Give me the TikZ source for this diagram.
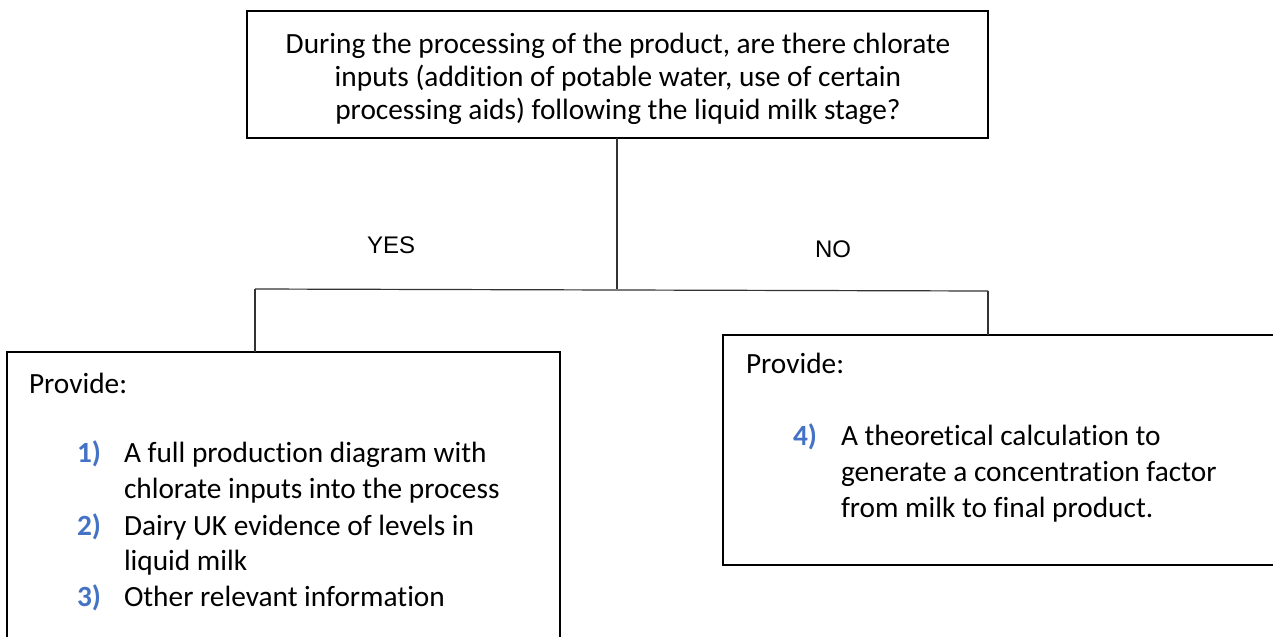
\documentclass[tikz,border=0pt]{standalone}
\usepackage{fontspec}
\setmainfont[Ligatures=NoCommon]{Carlito}
\newfontfamily\arialfont{Liberation Sans}
\definecolor{numblue}{HTML}{4472C4}
\definecolor{linegray}{HTML}{333333}
\begin{document}
\begin{tikzpicture}[x=0.75pt,y=-0.75pt,
  box/.style={draw=black,line width=1.6pt,inner sep=0pt,outer sep=0pt,rectangle},
  conn/.style={draw=linegray,line width=0.9pt},
  txt/.style={inner sep=0pt,outer sep=0pt,font=\fontsize{22pt}{26pt}\selectfont},
  num/.style={txt,text=numblue,font=\fontsize{22pt}{26pt}\selectfont\bfseries},
  yn/.style={inner sep=0pt,outer sep=0pt,font=\arialfont\fontsize{18pt}{22pt}\selectfont}]
\useasboundingbox (0,0) rectangle (1273,636);
\clip (0,0) rectangle (1273,636);
% boxes
\node[box,minimum width={741*0.75pt},minimum height={127*0.75pt}] (top) at (617.5,74.5) {};
\node[box,minimum width={553*0.75pt},minimum height={308*0.75pt}] (left) at (283.5,506) {};
\node[box,minimum width={567*0.75pt},minimum height={230*0.75pt}] (right) at (1006.5,450) {};
% top text
\node[txt,anchor=base] (t1) at (618,53) {During the processing of the product, are there chlorate};
\node[txt,anchor=base] (t2) at (618,86) {inputs (addition of potable water, use of certain};
\node[txt,anchor=base] (t3) at (618,119) {processing aids) following the liquid milk stage?};
% connectors
\coordinate (j) at (617,289);
\coordinate (ya) at (255,289);
\coordinate (na) at (988,291);
\draw[conn] (top.south -| j) -- (j);
\draw[conn] (ya) -- (na);
\draw[conn] (ya) -- (ya |- left.north);
\draw[conn] (na) -- (na |- right.north);
% yes / no
\node[yn,anchor=base west] (yes) at (367,253) {YES};
\node[yn,anchor=base west] (no) at (815,257) {NO};
% left box text
\node[txt,anchor=base west] (lp) at (29,393) {Provide:};
\node[num,anchor=base west] (n1) at (77,462) {1)};
\node[txt,anchor=base west] (l1a) at (124,462) {A full production diagram with};
\node[txt,anchor=base west] (l1b) at (124,498) {chlorate inputs into the process};
\node[num,anchor=base west] (n2) at (77,535) {2)};
\node[txt,anchor=base west] (l2a) at (124,535) {Dairy UK evidence of levels in};
\node[txt,anchor=base west] (l2b) at (124,570) {liquid milk};
\node[num,anchor=base west] (n3) at (77,606) {3)};
\node[txt,anchor=base west] (l3) at (124,606) {Other relevant information};
% right box text
\node[txt,anchor=base west] (rp) at (746,373) {Provide:};
\node[num,anchor=base west] (n4) at (793,445) {4)};
\node[txt,anchor=base west] (r1) at (841,445) {A theoretical calculation to};
\node[txt,anchor=base west] (r2) at (841,481) {generate a concentration factor};
\node[txt,anchor=base west] (r3) at (841,517) {from milk to final product.};
\end{tikzpicture}
\end{document}
